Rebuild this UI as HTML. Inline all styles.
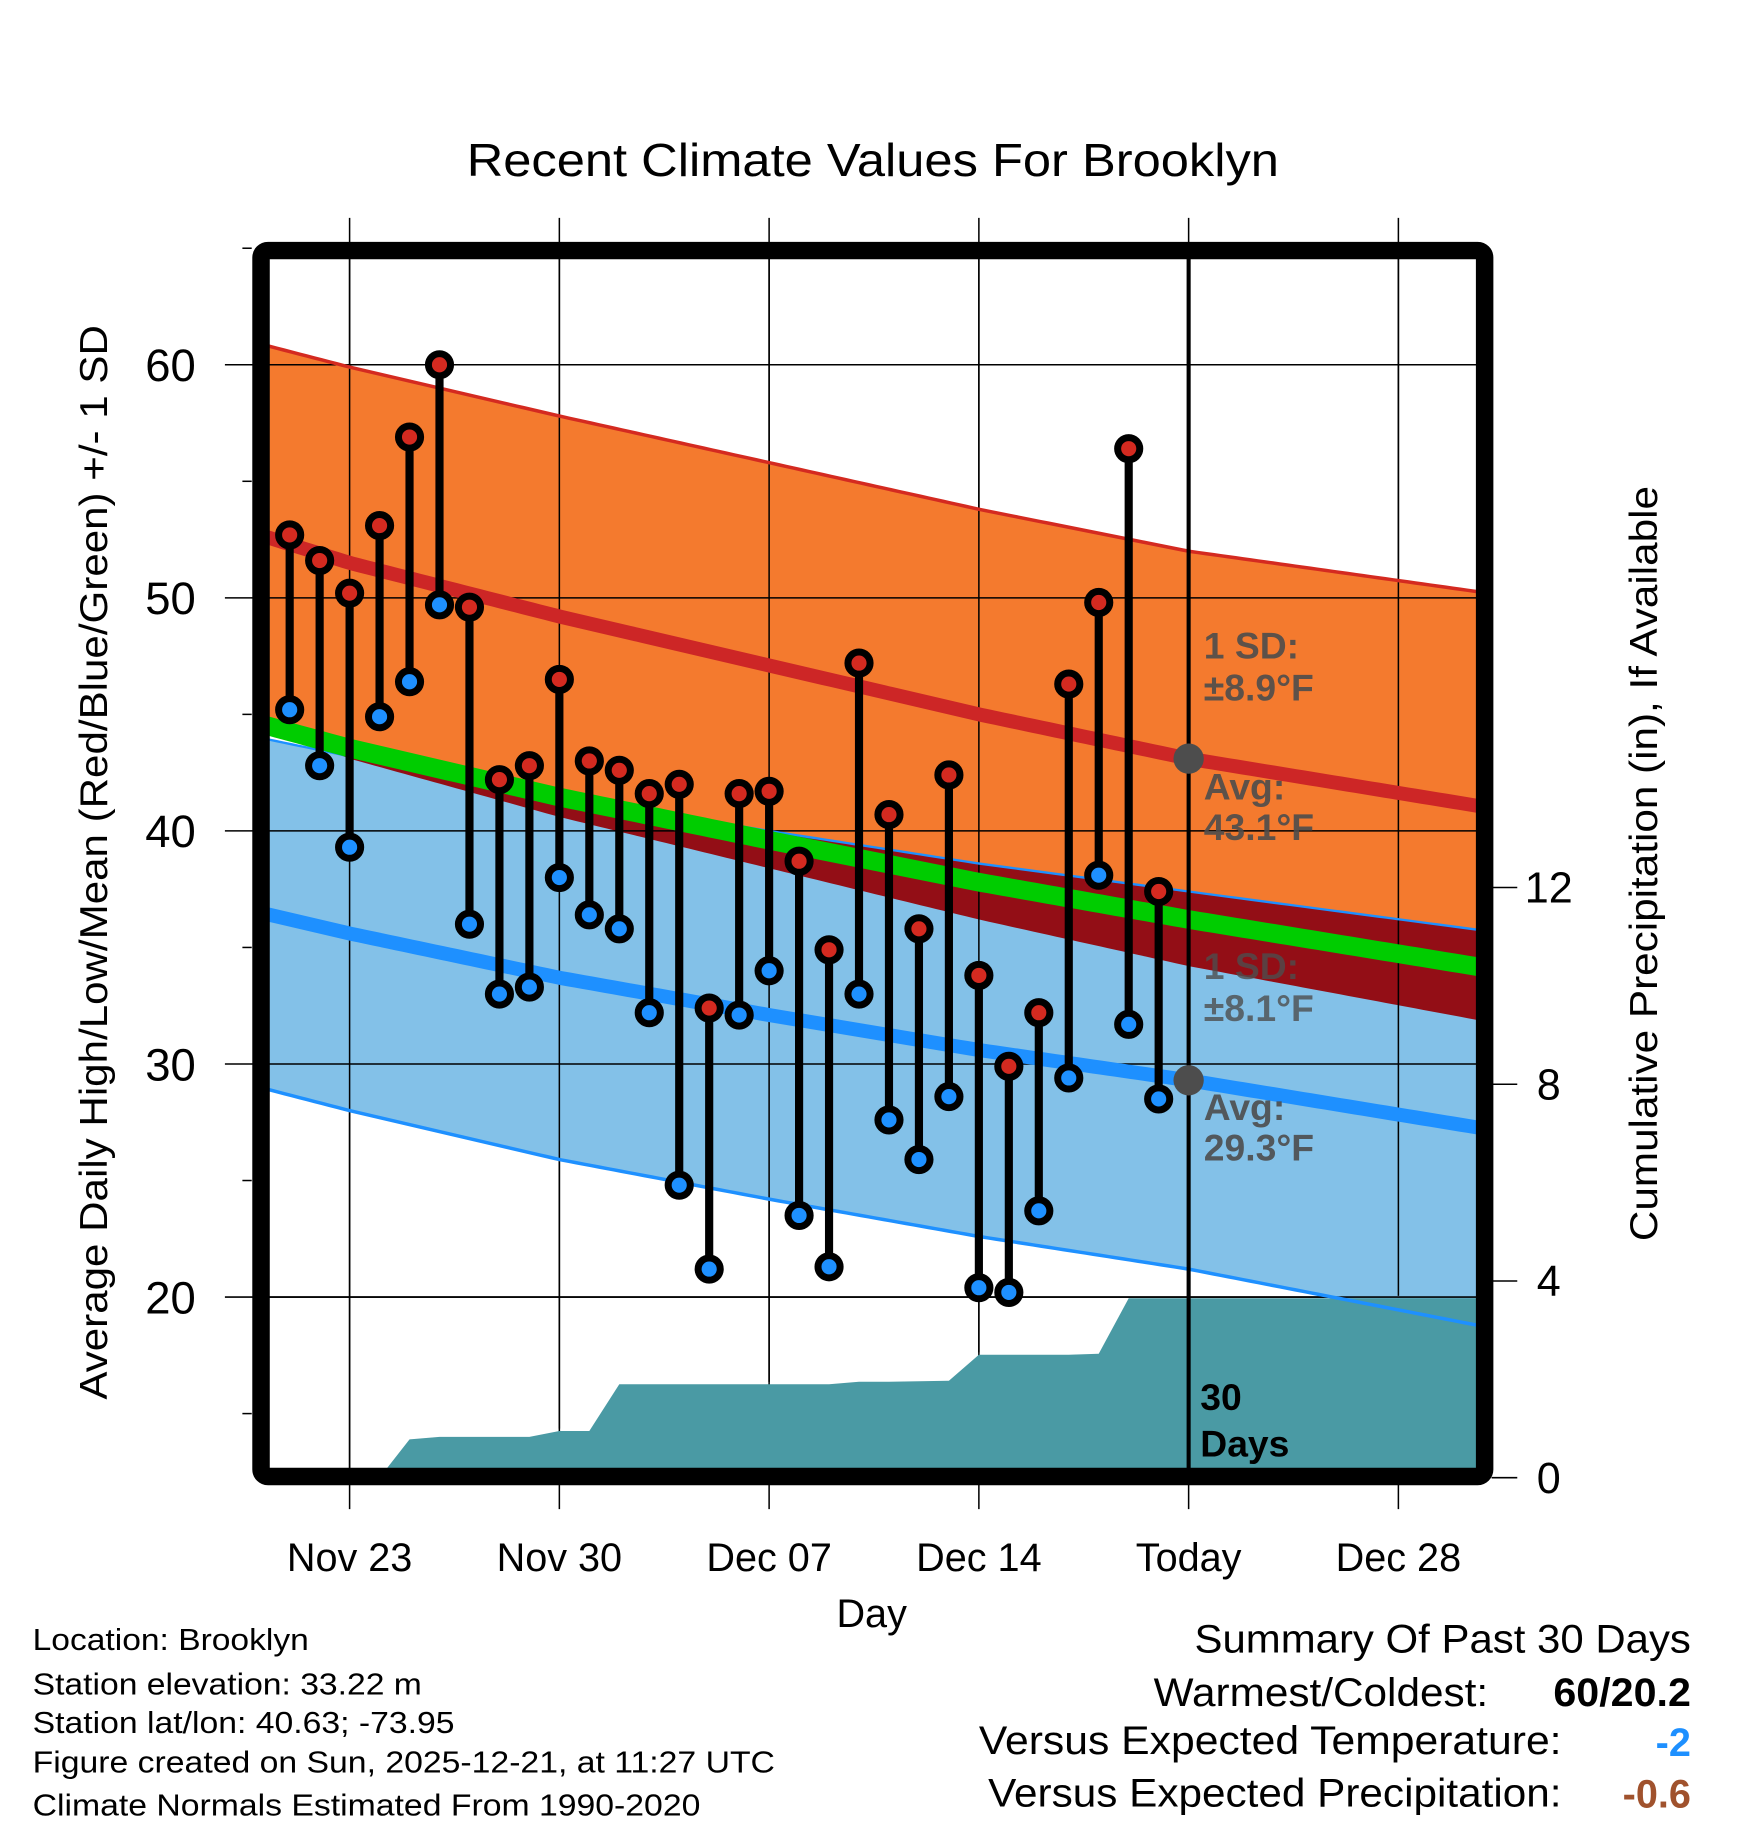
<!DOCTYPE html>
<html><head><meta charset="utf-8"><style>
html,body{margin:0;padding:0;background:#fff;}
svg{display:block;font-family:"Liberation Sans",Arial,sans-serif;}
</style></head><body>
<svg id="chart" width="1748" height="1828" viewBox="0 0 1500 1568.6" preserveAspectRatio="none" xmlns="http://www.w3.org/2000/svg">
<defs><clipPath id="plotclip"><rect x="231" y="222" width="1036" height="1038"/></clipPath></defs>
<text x="749" y="151" font-size="40" text-anchor="middle" textLength="697" lengthAdjust="spacingAndGlyphs">Recent Climate Values For Brooklyn</text>
<g id="grid"></g>
<g id="plot" clip-path="url(#plotclip)"></g>
<g id="marks"></g>
<rect x="224" y="215" width="1050" height="1052" fill="none" stroke="#000" stroke-width="15" rx="6"/>
<g id="axes"></g>
<text transform="translate(92,740) rotate(-90)" font-size="33" text-anchor="middle" textLength="922" lengthAdjust="spacingAndGlyphs">Average Daily High/Low/Mean (Red/Blue/Green) +/- 1 SD</text>
<text transform="translate(1422,741) rotate(-90)" font-size="33" text-anchor="middle" textLength="648" lengthAdjust="spacingAndGlyphs">Cumulative Precipitation (in), If Available</text>
<text x="748" y="1396" font-size="34" text-anchor="middle">Day</text>
<g font-size="26">
<text x="28" y="1416" textLength="237" lengthAdjust="spacingAndGlyphs">Location: Brooklyn</text>
<text x="28" y="1454" textLength="334" lengthAdjust="spacingAndGlyphs">Station elevation: 33.22 m</text>
<text x="28" y="1487" textLength="362" lengthAdjust="spacingAndGlyphs">Station lat/lon: 40.63; -73.95</text>
<text x="28" y="1521" textLength="637" lengthAdjust="spacingAndGlyphs">Figure created on Sun, 2025-12-21, at 11:27 UTC</text>
<text x="28" y="1558" textLength="573" lengthAdjust="spacingAndGlyphs">Climate Normals Estimated From 1990-2020</text>
</g>
<g font-size="34">
<text x="1451" y="1418" text-anchor="end" textLength="426" lengthAdjust="spacingAndGlyphs">Summary Of Past 30 Days</text>
<text x="1277" y="1464" text-anchor="end" textLength="287" lengthAdjust="spacingAndGlyphs">Warmest/Coldest:</text>
<text x="1451" y="1464" text-anchor="end" font-weight="bold" textLength="118" lengthAdjust="spacingAndGlyphs">60/20.2</text>
<text x="1340" y="1505" text-anchor="end" textLength="500" lengthAdjust="spacingAndGlyphs">Versus Expected Temperature:</text>
<text x="1451" y="1507" text-anchor="end" font-weight="bold" fill="#1e90ff">-2</text>
<text x="1340" y="1550" text-anchor="end" textLength="492" lengthAdjust="spacingAndGlyphs">Versus Expected Precipitation:</text>
<text x="1451" y="1551" text-anchor="end" font-weight="bold" fill="#a0522d">-0.6</text>
</g>
</svg>
<script>
const normDays=[-3,0,7,14,21,28,38];
const highNorm=[52.7,51.5,49.2,47.1,45.0,43.1,41.0];
const lowNorm=[36.5,35.6,33.7,32.1,30.6,29.3,27.2];
const highSD=[8.2,8.4,8.6,8.7,8.8,8.9,9.2];
const lowSD=[7.5,7.6,7.8,7.9,8.0,8.1,8.5];
const obsDays=[-2,-1,0,1,2,3,4,5,6,7,8,9,10,11,12,13,14,15,16,17,18,19,20,21,22,23,24,25,26,27];
const highObs=[52.7,51.6,50.2,53.1,56.9,60.0,49.6,42.2,42.8,46.5,43.0,42.6,41.6,42.0,32.4,41.6,41.7,38.7,34.9,47.2,40.7,35.8,42.4,33.8,29.9,32.2,46.3,49.8,56.4,37.4];
const lowObs=[45.2,42.8,39.3,44.9,46.4,49.7,36.0,33.0,33.3,38.0,36.4,35.8,32.2,24.8,21.2,32.1,34.0,23.5,21.3,33.0,27.6,25.9,28.6,20.4,20.2,23.7,29.4,38.1,31.7,28.5];
const precipObs=[0,0,0,0,0.78,0.83,0.83,0.83,0.83,0.95,0.95,1.9,1.9,1.9,1.9,1.9,1.9,1.9,1.9,1.95,1.95,1.96,1.97,2.5,2.5,2.5,2.5,2.52,3.65,3.65];
const yTicks=[20,30,40,50,60];
const pTicks=[0,4,8,12];
const xTickDays=[0,7,14,21,28,35];
const xTickLabels=["Nov 23","Nov 30","Dec 07","Dec 14","Today","Dec 28"];

const NS="http://www.w3.org/2000/svg";
const X0=231,X1=1267,Y0=222,Y1=1260;
const xs=d=>300+d*25.714;
const ys=v=>313+(60-v)*20;
const yp=p=>1268-p*42.2;
const dMin=(X0-300)/25.714, dMax=(X1-300)/25.714;
function interp(arr,d){for(let i=0;i<normDays.length-1;i++){if(d<=normDays[i+1]||i==normDays.length-2){const t=(d-normDays[i])/(normDays[i+1]-normDays[i]);return arr[i]+t*(arr[i+1]-arr[i]);}}}
function mk(tag,attrs,parent){const e=document.createElementNS(NS,tag);for(const k in attrs)e.setAttribute(k,attrs[k]);parent.appendChild(e);return e;}
const plot=document.getElementById('plot'),grid=document.getElementById('grid'),marks=document.getElementById('marks'),axes=document.getElementById('axes');
const samp=[];for(let d=dMin-0.5;d<=dMax+0.6;d+=0.25)samp.push(d);
function band(fu,fl){const up=samp.map(d=>xs(d)+','+ys(fu(d)));const lo=samp.slice().reverse().map(d=>xs(d)+','+ys(fl(d)));return up.concat(lo).join(' ');}
function line(f){return samp.map(d=>xs(d)+','+ys(f(d))).join(' ');}
const hM=d=>interp(highNorm,d),lM=d=>interp(lowNorm,d);
const hS=d=>interp(highSD,d),lS=d=>interp(lowSD,d);
const hU=d=>hM(d)+hS(d),hL=d=>hM(d)-hS(d),lU=d=>lM(d)+lS(d),lL=d=>lM(d)-lS(d);
let e;
e=mk('polygon',{points:band(hU,hL),fill:'#f47a2e'},plot);


e=mk('polygon',{points:band(lU,lL),fill:'#83c1e8'},plot);


const ovT=d=>Math.min(hU(d),lU(d)),ovB=d=>Math.min(Math.max(hL(d),lL(d)),ovT(d));
e=mk('polygon',{points:band(ovT,ovB),fill:'#930e16'},plot);


yTicks.forEach(v=>{e=mk('line',{x1:193,x2:X1,y1:ys(v),y2:ys(v),stroke:'#000','stroke-width':1.3},grid);

});
xTickDays.forEach(d=>{e=mk('line',{x1:xs(d),x2:xs(d),y1:187,y2:1295,stroke:'#000','stroke-width':1.3},grid);

});
[15,25,35,45,55,65].forEach(v=>{if(ys(v)>=205&&ys(v)<=1262){e=mk('line',{x1:208,x2:216,y1:ys(v),y2:ys(v),stroke:'#000','stroke-width':1.3},grid);

}});
const pp=obsDays.map((d,i)=>xs(d)+','+yp(precipObs[i]));
pp.push(xs(dMax+1)+','+yp(precipObs[precipObs.length-1]));
pp.push(xs(dMax+1)+','+(Y1+10));pp.push(xs(obsDays[0])+','+(Y1+10));
e=mk('polygon',{points:pp.join(' '),fill:'#4a9aa4'},plot);


yTicks.forEach(v=>{e=mk('line',{x1:X0,x2:X1,y1:ys(v),y2:ys(v),stroke:'#000','stroke-width':1.3},plot);

});
xTickDays.forEach(d=>{const idx=Math.min(precipObs.length-1,Math.max(0,Math.round(d)+2));e=mk('line',{x1:xs(d),x2:xs(d),y1:Y0,y2:yp(precipObs[idx])-2,stroke:'#000','stroke-width':1.3},plot);

});
e=mk('polyline',{points:line(hU),fill:'none',stroke:'#d42a20','stroke-width':3},plot);


e=mk('polyline',{points:line(lU),fill:'none',stroke:'#1e90ff','stroke-width':2},plot);


e=mk('polyline',{points:line(lL),fill:'none',stroke:'#1e90ff','stroke-width':3},plot);


e=mk('polyline',{points:line(hM),fill:'none',stroke:'#cd2626','stroke-width':12},plot);


e=mk('polyline',{points:line(lM),fill:'none',stroke:'#1e90ff','stroke-width':12},plot);


e=mk('polyline',{points:line(d=>(hM(d)+lM(d))/2),fill:'none',stroke:'#00cc00','stroke-width':16},plot);


e=mk('line',{x1:xs(28),x2:xs(28),y1:Y0,y2:Y1,stroke:'#000','stroke-width':3.5},plot);


function lbl(txt,x,y,name,fill,op){e=mk('text',{x:x,y:y,'font-size':32,'font-weight':'bold',fill:fill,'fill-opacity':op},plot);e.textContent=txt;

}
lbl('1 SD:',1033,565,'high-sd-label','#4d4d4d',0.9);
lbl('\u00b18.9\u00b0F',1033,601,'high-sd-value','#4d4d4d',0.9);
lbl('Avg:',1033,686,'high-avg-label','#4d4d4d',0.9);
lbl(hM(28).toFixed(1)+'\u00b0F',1033,721,'high-avg-value','#4d4d4d',0.9);
lbl('1 SD:',1033,840,'low-sd-label','#4d4d4d',0.8);
lbl('\u00b18.1\u00b0F',1033,876,'low-sd-value','#4d4d4d',0.8);
lbl('Avg:',1033,961,'low-avg-label','#4d4d4d',0.9);
lbl(lM(28).toFixed(1)+'\u00b0F',1033,996,'low-avg-value','#4d4d4d',0.9);
lbl('30',1030,1210,'days-count-label','#000',1);
lbl('Days',1030,1250,'days-word-label','#000',1);
e=mk('circle',{cx:xs(28),cy:ys(hM(28)),r:13,fill:'#4d4d4d'},plot);


e=mk('circle',{cx:xs(28),cy:ys(lM(28)),r:13,fill:'#4d4d4d'},plot);


obsDays.forEach((d,i)=>{const x=xs(d),yh=ys(highObs[i]),yl=ys(lowObs[i]);
e=mk('line',{x1:x,x2:x,y1:yh,y2:yl,stroke:'#000','stroke-width':7},marks);


e=mk('circle',{cx:x,cy:yh,r:9.5,fill:'#d42a20',stroke:'#000','stroke-width':6},marks);


e=mk('circle',{cx:x,cy:yl,r:9.5,fill:'#1e90ff',stroke:'#000','stroke-width':6},marks);

});
yTicks.forEach(v=>{e=mk('text',{x:168,y:ys(v)+14,'font-size':39,'text-anchor':'end'},axes);e.textContent=v;

});
pTicks.forEach(p=>{e=mk('line',{x1:1280,x2:1302,y1:yp(p),y2:yp(p),stroke:'#000','stroke-width':1.3},axes);


e=mk('text',{x:1329,y:yp(p)+13,'font-size':37,'text-anchor':'middle'},axes);e.textContent=p;

});
xTickDays.forEach((d,i)=>{e=mk('text',{x:xs(d),y:1348,'font-size':34,'text-anchor':'middle'},axes);e.textContent=xTickLabels[i];

});
</script>
</body></html>
